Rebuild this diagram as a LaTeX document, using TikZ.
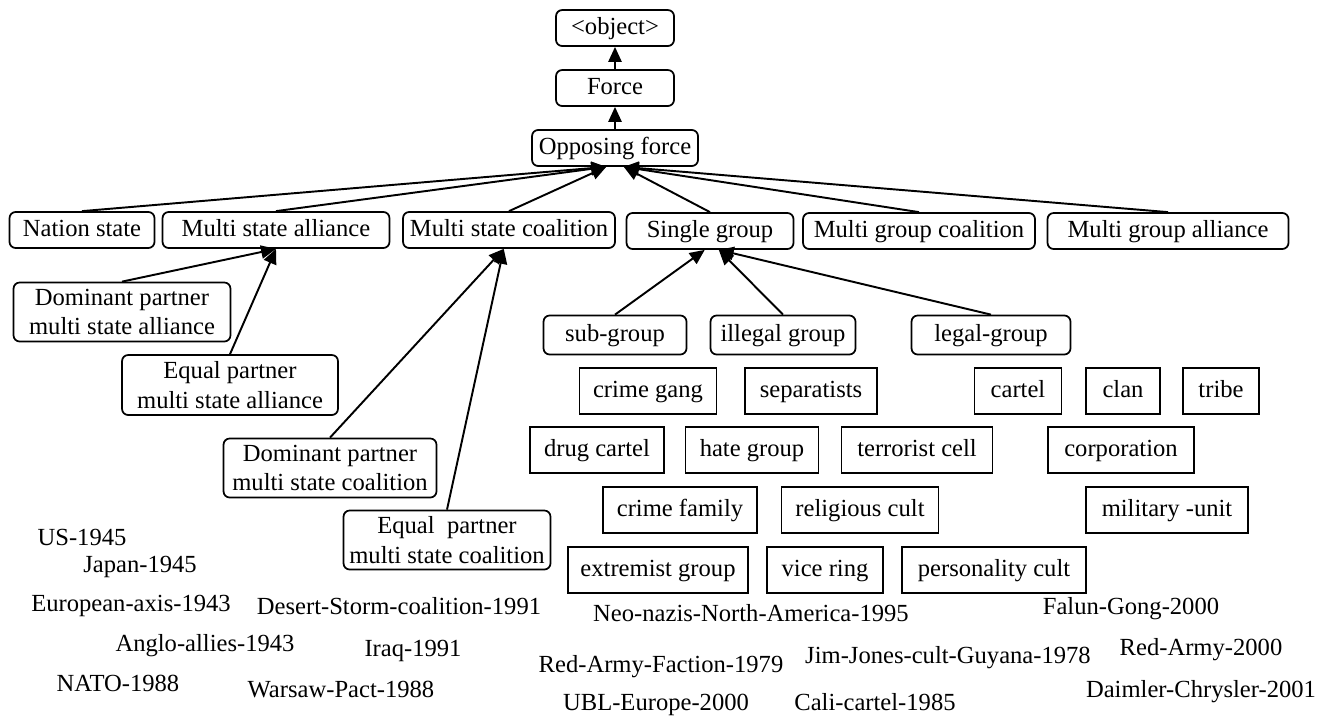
\documentclass[tikz,border=0pt]{standalone}
\usepackage{fontspec}
\setmainfont{Liberation Serif}
\usetikzlibrary{arrows.meta}

\tikzset{
  cls/.style={draw, rounded corners=3.5pt, line width=1pt, minimum height=0.72cm, inner sep=2pt, align=center},
  one/.style={text height=0.84em, text depth=0.12em},
  inst/.style={draw, line width=1pt, minimum height=0.91cm, inner sep=2pt, one},
  lbl/.style={inner sep=0pt},
  isa/.style={line width=1.1pt, -{Triangle[length=8.5pt,width=7.5pt]}}
}

\begin{document}
\begin{tikzpicture}[x=0.02cm, y=-0.02cm, node distance=1.2cm, font=\fontsize{14}{17}\selectfont]
            \useasboundingbox (0,0) rectangle (1325,717);

            % class hierarchy
            \node[cls, one, minimum width=3.32cm] (opposing) at (615,148) {Opposing force};
            \node[cls, one, minimum width=2.36cm] (force) [above of=opposing] {Force};
            \node[cls, one, minimum width=2.36cm] (object) [above of=force] {<object>};

            \node[cls, one, minimum width=2.9cm] (nation) at (82,230) {Nation state};
            \node[cls, one, minimum width=4.54cm] (msalliance) at (276,230) {Multi state alliance};
            \node[cls, one, minimum width=4.24cm] (mscoalition) at (509,230) {Multi state coalition};
            \node[cls, one, minimum width=3.34cm] (single) at (710,231) {Single group};
            \node[cls, one, minimum width=4.64cm] (mgcoalition) at (919,231) {Multi group coalition};
            \node[cls, one, minimum width=4.82cm] (mgalliance) at (1168,231) {Multi group alliance};

            \node[cls, minimum width=4.34cm, minimum height=1.18cm] (dpalliance) at (122,312) {Dominant partner\\multi state alliance};
            \node[cls, minimum width=4.32cm, minimum height=1.2cm] (epalliance) at (230,385) {Equal partner\\multi state alliance};
            \node[cls, minimum width=4.26cm, minimum height=1.18cm] (dpcoalition) at (330,468) {Dominant partner\\multi state coalition};
            \node[cls, minimum width=4.14cm, minimum height=1.18cm] (epcoalition) at (447,540) {Equal\ \ partner\\multi state coalition};

            \node[cls, one, minimum width=2.86cm, minimum height=0.78cm] (subgroup) at (615,335) {sub-group};
            \node[cls, one, minimum width=2.9cm, minimum height=0.78cm] (illegal) at (783,335) {illegal group};
            \node[cls, one, minimum width=3.18cm, minimum height=0.78cm] (legal) at (991,335) {legal-group};

            % instances of groups
            \node[inst, minimum width=2.74cm] (crimegang) at (648,391) {crime gang};
            \node[inst, minimum width=2.64cm] (separatists) at (811,391) {separatists};
            \node[inst, minimum width=1.74cm] (cartel) at (1018,391) {cartel};
            \node[inst, minimum width=1.48cm] (clan) at (1123,391) {clan};
            \node[inst, minimum width=1.52cm] (tribe) at (1221,391) {tribe};

            \node[inst, minimum width=2.68cm] (drugcartel) at (597,450) {drug cartel};
            \node[inst, minimum width=2.66cm] (hategroup) at (752,450) {hate group};
            \node[inst, minimum width=3.02cm] (terrorcell) at (917,450) {terrorist cell};
            \node[inst, minimum width=2.92cm] (corporation) at (1121,450) {corporation};

            \node[inst, minimum width=3.08cm] (crimefamily) at (680,510) {crime family};
            \node[inst, minimum width=3.14cm] (religiouscult) at (860,510) {religious cult};
            \node[inst, minimum width=3.24cm] (military) at (1167,510) {military -unit};

            \node[inst, minimum width=3.6cm] (extremist) at (658,570) {extremist group};
            \node[inst, minimum width=2.32cm] (vicering) at (825,570) {vice ring};
            \node[inst, minimum width=3.68cm] (personality) at (994,570) {personality cult};

            % named examples
            \node[lbl] (us) at (82,537) {US-1945};
            \node[lbl] (japan) at (140,567) {Japan-1945};
            \node[lbl] (euraxis) at (131,606) {European-axis-1943};
            \node[lbl] (desertstorm) at (399,606) {Desert-Storm-coalition-1991};
            \node[lbl] (anglo) at (205,646) {Anglo-allies-1943};
            \node[lbl] (iraq) at (413,651) {Iraq-1991};
            \node[lbl] (nato) at (118,683) {NATO-1988};
            \node[lbl] (warsaw) at (341,689) {Warsaw-Pact-1988};

            \node[lbl] (neonazis) at (751,613) {Neo-nazis-North-America-1995};
            \node[lbl] (falun) at (1131,609) {Falun-Gong-2000};
            \node[lbl] (jimjones) at (948,658) {Jim-Jones-cult-Guyana-1978};
            \node[lbl] (redarmy) at (1201,650) {Red-Army-2000};
            \node[lbl] (raf) at (661,667) {Red-Army-Faction-1979};
            \node[lbl] (daimler) at (1201,692) {Daimler-Chrysler-2001};
            \node[lbl] (ubl) at (656,705) {UBL-Europe-2000};
            \node[lbl] (cali) at (875,702) {Cali-cartel-1985};

            \draw[isa] (force) -- (object);
            \draw[isa] (opposing) -- (force);

            \draw[isa] (nation.north) -- ([xshift=-5pt]opposing.south);
            \draw[isa] (msalliance.north) -- ([xshift=-5pt]opposing.south);
            \draw[isa] (mscoalition.north) -- ([xshift=-5pt]opposing.south);
            \draw[isa] (single.north) -- ([xshift=5pt]opposing.south);
            \draw[isa] (mgcoalition.north) -- ([xshift=5pt]opposing.south);
            \draw[isa] (mgalliance.north) -- ([xshift=5pt]opposing.south);

            \draw[isa] (dpalliance.north) -- (msalliance.south);
            \draw[isa] (epalliance.north) -- (msalliance.south);
            \draw[isa] (dpcoalition.north) -- ([xshift=-3pt]mscoalition.south);
            \draw[isa] (epcoalition.north) -- ([xshift=-3pt]mscoalition.south);

            \draw[isa] (subgroup.north) -- ([xshift=-3pt]single.south);
            \draw[isa] (illegal.north) -- ([xshift=5pt]single.south);
            \draw[isa] (legal.north) -- ([xshift=5pt]single.south);
        \end{tikzpicture}
\end{document}
